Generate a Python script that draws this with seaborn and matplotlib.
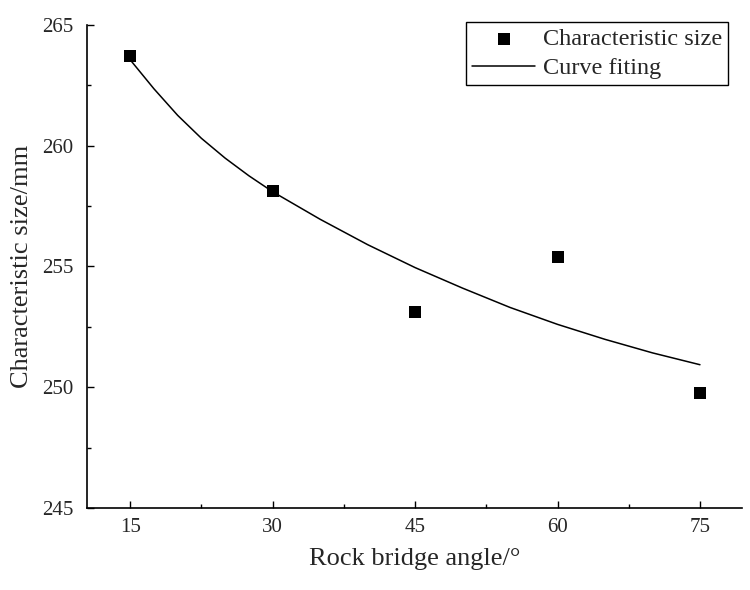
import matplotlib.pyplot as plt
from matplotlib.ticker import MultipleLocator
import seaborn as sns
import pandas as pd

# measured points
angle = [15, 30, 45, 60, 75]
char_size = [263.7, 258.1, 253.1, 255.4, 249.75]

# fitted curve
fit_angle = [15, 17.5, 20, 22.5, 25, 27.5, 30, 35, 40, 45, 50, 55, 60, 65, 70, 75]
fit_size = [263.55, 262.35, 261.25, 260.3, 259.48, 258.75, 258.09, 256.95, 255.9,
            254.95, 254.1, 253.3, 252.6, 251.98, 251.42, 250.93]

df_pts = pd.DataFrame({"angle": angle, "size": char_size})
df_fit = pd.DataFrame({"angle": fit_angle, "size": fit_size})

sns.set_style("ticks")
plt.rcParams['font.family'] = ['Liberation Serif', 'DejaVu Serif']

fig = plt.figure(figsize=(7.5, 5.9), dpi=100)
ax = fig.add_axes([0.116, 0.139, 0.873, 0.819])

sns.lineplot(data=df_fit, x="angle", y="size", ax=ax, color="black", linewidth=1.1,
             label="Curve fiting", zorder=2)
sns.scatterplot(data=df_pts, x="angle", y="size", ax=ax, marker="s", s=80, color="black",
                edgecolor="black", linewidth=0, label="Characteristic size", zorder=3)

ax.set_xlim(10.45, 79.4)
ax.set_ylim(245, 265)
ax.set_xticks(angle)
ax.set_yticks([245, 250, 255, 260, 265])
ax.xaxis.set_minor_locator(MultipleLocator(7.5))
ax.yaxis.set_minor_locator(MultipleLocator(2.5))
ax.tick_params(which="major", direction="in", length=5, width=1, labelsize=15, color="black")
ax.tick_params(which="minor", direction="in", length=3, width=1, color="black")
ax.tick_params(axis="x", pad=7)
ax.tick_params(axis="y", pad=10)
sns.despine(ax=ax)
for sp in ["left", "bottom"]:
    ax.spines[sp].set_linewidth(1.2)
    ax.spines[sp].set_color("black")

ax.set_xlabel("Rock bridge angle/°", fontsize=19, labelpad=8)
ax.set_ylabel("Characteristic size/mm", fontsize=19, labelpad=6)

handles, labels = ax.get_legend_handles_labels()
order = [labels.index("Characteristic size"), labels.index("Curve fiting")]
leg = ax.legend([handles[i] for i in order], [labels[i] for i in order],
                loc="upper right", bbox_to_anchor=(728 / 750, 1 - 22 / 590),
                bbox_transform=fig.transFigure, fontsize=17.5, frameon=True,
                fancybox=False, edgecolor="black", framealpha=1,
                borderpad=0.25, handlelength=2.6, handletextpad=0.3, labelspacing=0.3,
                borderaxespad=0)
leg.get_frame().set_linewidth(1.0)

fig.savefig("out.png", dpi=100)
